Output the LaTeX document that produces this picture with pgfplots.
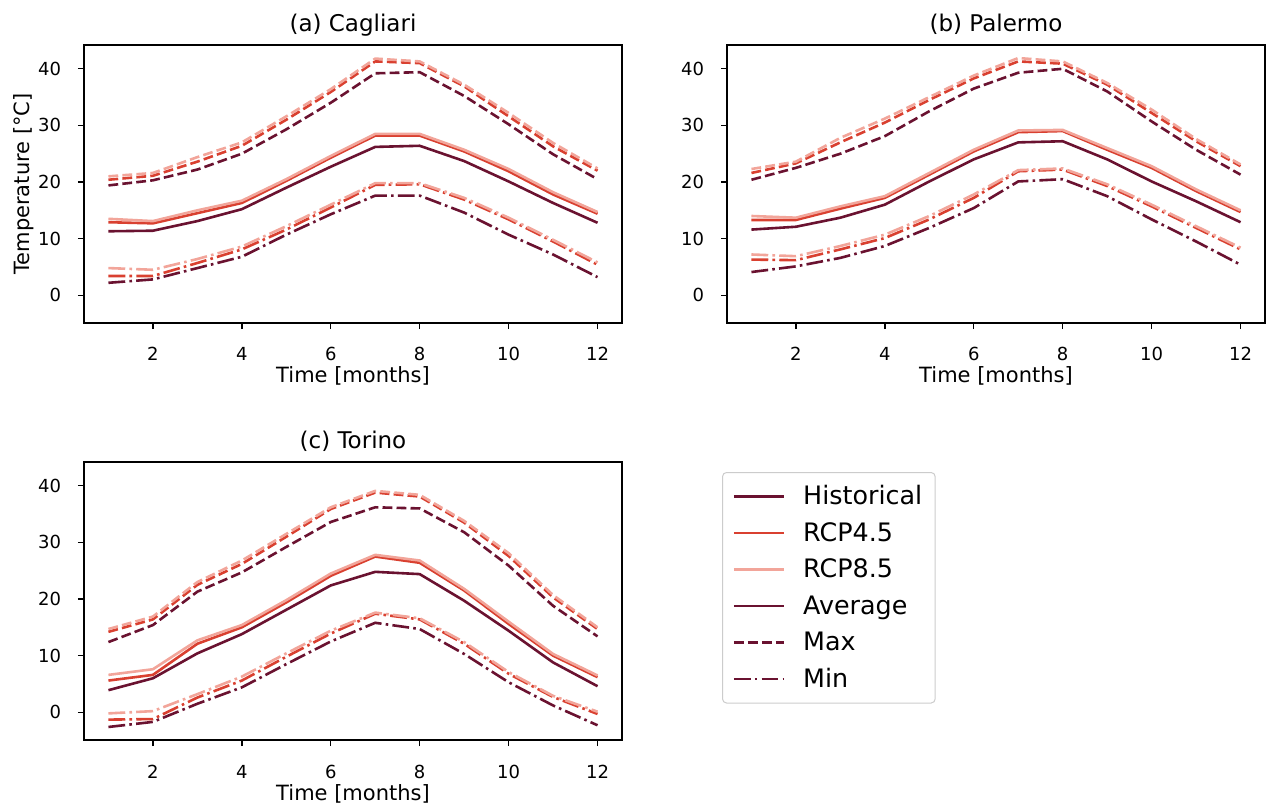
\documentclass[border=0pt]{standalone}
\usepackage{pgfplots}
\pgfplotsset{compat=1.18}
\usepackage{pgfplotstable}
\usepackage{fontspec}
\setmainfont{DejaVu Sans}
\definecolor{chist}{HTML}{6A1230}
\definecolor{crcpa}{HTML}{D94030}
\definecolor{crcpb}{HTML}{F2A59A}
\definecolor{legframe}{HTML}{CCCCCC}

\pgfplotstableread{
m  hav   raav  rbav  hmax  ramax  rbmax  hmin  ramin  rbmin
1  11.3  12.9  13.5  19.4  20.4   21.0   2.2   3.4    4.8
2  11.4  12.7  13.1  20.3  21.1   21.6   2.8   3.4    4.5
3  13.1  14.5  15.0  22.2  23.6   24.4   4.8   5.7    6.4
4  15.2  16.3  16.7  25.0  26.4   27.0   6.8   8.1    8.6
5  19.0  20.2  20.5  29.3  31.0   31.6   10.7  11.6   12.2
6  22.7  24.3  24.6  34.0  35.9   36.4   14.3  15.5   16.0
7  26.2  28.2  28.5  39.2  41.3   41.8   17.6  19.5   19.8
8  26.4  28.2  28.5  39.4  41.0   41.3   17.6  19.6   19.8
9  23.7  25.4  25.7  35.2  36.9   37.2   14.6  16.9   17.2
10 20.1  21.9  22.3  30.2  31.6   32.2   10.7  13.4   13.7
11 16.3  17.8  18.2  24.9  26.3   26.9   7.2   9.5    9.8
12 12.8  14.4  14.7  20.5  22.0   22.4   3.2   5.4    5.8
}\cagliari

\pgfplotstableread{
m  hav   raav  rbav  hmax  ramax  rbmax  hmin  ramin  rbmin
1  11.6  13.3  14.0  20.4  21.6   22.3   4.1   6.3    7.2
2  12.1  13.3  13.7  22.5  23.3   23.6   5.1   6.2    6.9
3  13.7  15.3  15.7  25.0  27.0   27.8   6.6   8.1    8.7
4  16.0  17.2  17.5  28.1  30.5   31.2   8.7   10.1   10.7
5  20.1  21.3  21.6  32.5  34.5   35.0   11.9  13.4   14.0
6  24.0  25.4  25.7  36.5  38.3   38.8   15.4  17.2   17.8
7  27.0  28.8  29.1  39.3  41.3   41.9   20.1  21.9   22.1
8  27.2  29.0  29.2  40.0  40.9   41.3   20.5  22.2   22.4
9  24.0  25.7  26.0  36.0  37.2   37.5   17.5  19.3   19.6
10 20.1  22.5  22.8  30.7  32.2   32.8   13.4  15.7   16.0
11 16.6  18.4  18.7  25.7  27.2   27.6   9.5   11.9   12.2
12 12.9  14.7  15.0  21.3  22.8   23.1   5.4   8.1    8.4
}\palermo

\pgfplotstableread{
m  hav   raav  rbav  hmax  ramax  rbmax  hmin  ramin  rbmin
1  3.9   5.6   6.6   12.4  14.2   14.7   -2.6  -1.3   -0.2
2  6.0   6.6   7.6   15.4  16.4   16.9   -1.7  -1.2   0.2
3  10.4  12.1  12.7  21.3  22.5   23.0   1.5   2.6    3.2
4  13.8  15.0  15.4  24.7  26.2   26.8   4.4   5.6    6.3
5  18.1  19.4  19.8  29.2  31.0   31.5   8.5   9.8    10.4
6  22.4  24.1  24.5  33.6  35.9   36.2   12.5  13.9   14.4
7  24.8  27.5  27.8  36.2  38.8   39.1   15.8  17.4   17.6
8  24.4  26.4  26.8  36.0  38.1   38.4   14.7  16.4   16.6
9  19.7  21.5  21.8  31.8  33.5   33.8   10.3  12.1   12.4
10 14.4  15.6  16.0  25.9  27.6   28.1   5.3   6.8    7.1
11 8.8   10.0  10.3  18.8  20.3   20.7   1.2   2.7    2.9
12 4.6   6.2   6.5   13.4  14.7   15.0   -2.3  -0.3   0.1
}\torino

\tikzset{
  avg/.style={solid, line width=1.3pt},
  mx/.style={line width=1.3pt, dash pattern=on 4.9pt off 2.1pt},
  mn/.style={line width=1.3pt, dash pattern=on 8.4pt off 2.1pt on 1.3pt off 2.1pt},
}

\pgfplotsset{
  panel/.style={
    scale only axis, width=269pt, height=139pt,
    xmin=0.45, xmax=12.55, ymin=-4.9, ymax=44.2,
    xtick={2,4,6,8,10,12}, ytick={0,10,20,30,40},
    tick align=outside, tick pos=left, major tick length=3pt,
    axis line style={line width=0.7pt},
    every tick/.style={line width=0.7pt, black},
    /pgf/number format/assume math mode=true,
    ticklabel style={font=\fontsize{9}{11}\selectfont},
    xticklabel style={anchor=base, inner sep=0pt, yshift=-16pt},
    yticklabel style={anchor=east, inner sep=0pt, xshift=-8.3pt},
    xlabel={Time [months]},
    xlabel style={at={(0.5,0)}, anchor=base, yshift=-30pt, font=\fontsize{10.5}{12}\selectfont},
    ylabel style={at={(-0.1022,0.5)}, anchor=base, font=\fontsize{10.5}{12}\selectfont},
    title style={at={(0.5,1)}, anchor=base, yshift=0.5pt, font=\fontsize{11.5}{14}\selectfont},
  },
}

\newcommand\plotcity[1]{%
  \addplot[forget plot, chist, avg] table[x=m,y=hav]{#1};
  \addplot[forget plot, chist, mx]  table[x=m,y=hmax]{#1};
  \addplot[forget plot, chist, mn]  table[x=m,y=hmin]{#1};
  \addplot[forget plot, crcpa, avg] table[x=m,y=raav]{#1};
  \addplot[forget plot, crcpa, mx]  table[x=m,y=ramax]{#1};
  \addplot[forget plot, crcpa, mn]  table[x=m,y=ramin]{#1};
  \addplot[forget plot, crcpb, avg] table[x=m,y=rbav]{#1};
  \addplot[forget plot, crcpb, mx]  table[x=m,y=rbmax]{#1};
  \addplot[forget plot, crcpb, mn]  table[x=m,y=rbmin]{#1};
}

\begin{document}
\begin{tikzpicture}
\useasboundingbox (0,0) rectangle (633pt,402.5pt);

\begin{axis}[panel, at={(42pt,241pt)}, anchor=south west,
  title={(a) Cagliari}, ylabel={Temperature [°C]}]
\plotcity{\cagliari}
\end{axis}

\begin{axis}[panel, at={(363.5pt,241pt)}, anchor=south west,
  title={(b) Palermo}]
\plotcity{\palermo}
\end{axis}

\begin{axis}[panel, at={(42pt,32.5pt)}, anchor=south west,
  title={(c) Torino},
  legend cell align=left,
  legend image code/.code={\draw[#1] (0pt,0pt) -- (25pt,0pt);},
  legend style={at={(1.186,0.964)}, anchor=north west,
    font=\fontsize{12.7}{15}\selectfont,
    draw=legframe, line width=0.5pt, rounded corners=2pt,
    inner xsep=5pt, inner ysep=4.5pt, row sep=3.25pt,
    nodes={inner sep=1.5pt, text height=10pt, text depth=2pt},
    /tikz/every odd column/.append style={column sep=7.5pt}}]
\plotcity{\torino}
\addlegendimage{chist, avg}\addlegendentry{Historical}
\addlegendimage{crcpa, avg}\addlegendentry{RCP4.5}
\addlegendimage{crcpb, avg}\addlegendentry{RCP8.5}
\addlegendimage{chist, avg}\addlegendentry{Average}
\addlegendimage{chist, mx}\addlegendentry{Max}
\addlegendimage{chist, mn}\addlegendentry{Min}
\end{axis}
\end{tikzpicture}
\end{document}
